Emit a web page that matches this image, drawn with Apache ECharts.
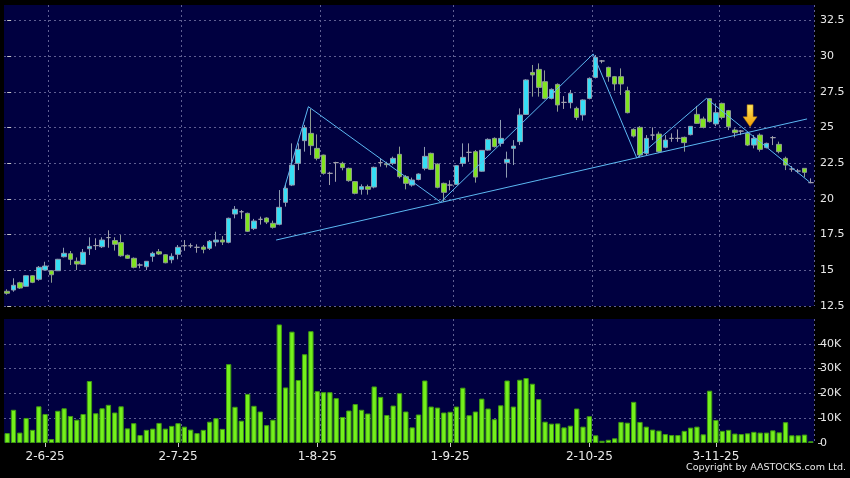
<!DOCTYPE html>
<html>
<head>
<meta charset="utf-8">
<script src="https://cdn.jsdelivr.net/npm/echarts@6/dist/echarts.min.js"></script>
<style>
  html, body { margin: 0; padding: 0; background: #000; }
  #chart { width: 850px; height: 478px; }
</style>
</head>
<body>
<div id="chart"></div>
<script>
// trading days per month (2025)
const months = [
  ['5', [23, 26, 27, 28, 29, 30]],
  ['6', [2, 3, 4, 5, 6, 9, 10, 11, 12, 13, 16, 17, 18, 19, 20, 23, 24, 25, 26, 27, 30]],
  ['7', [2, 3, 4, 7, 8, 9, 10, 11, 14, 15, 16, 17, 18, 21, 22, 23, 24, 25, 28, 29, 30, 31]],
  ['8', [1, 4, 5, 6, 7, 8, 11, 12, 13, 14, 15, 18, 19, 20, 21, 22, 25, 26, 27, 28, 29]],
  ['9', [1, 2, 3, 4, 5, 8, 9, 10, 11, 12, 15, 16, 17, 18, 19, 22, 23, 24, 25, 26, 29, 30]],
  ['10', [2, 3, 6, 8, 9, 10, 13, 14, 15, 16, 17, 20, 21, 22, 23, 24, 27, 28, 30, 31]],
  ['11', [3, 4, 5, 6, 7, 10, 11, 12, 13, 14, 17, 18, 19, 20, 21, 24]]
];
const dates = months.flatMap(([m, days]) => days.map(d => d + '-' + m + '-25'));
const labelDates = ['2-6-25', '2-7-25', '1-8-25', '1-9-25', '2-10-25', '3-11-25'];

const opens = [
  13.53, 13.62, 14.13, 13.88, 14.62, 14.37, 15.02, 14.97, 14.97, 15.95,
  16.16, 15.63, 15.42, 16.51, 16.73, 16.65, 17.29, 17.08, 16.94, 16.05,
  15.84, 15.37, 15.25, 15.98, 16.30, 16.09, 15.74, 16.12, 16.72, 16.72,
  16.61, 16.63, 16.54, 16.98, 17.12, 16.96, 18.94, 19.10, 18.99, 17.92,
  18.57, 18.66, 18.29, 18.22, 19.76, 20.97, 22.49, 24.08, 24.59, 23.54,
  23.07, 21.79, 22.54, 22.49, 22.14, 21.21, 20.67, 20.86, 20.83, 22.54,
  22.45, 22.49, 23.12, 21.56, 20.97, 21.36, 22.14, 23.19, 22.44, 21.09,
  20.97, 21.02, 22.49, 23.26, 23.31, 21.94, 23.42, 24.24, 23.89, 22.54,
  23.54, 24.01, 25.92, 28.86, 29.07, 28.21, 27.04, 28.02, 26.76, 26.74,
  26.34, 25.88, 27.04, 28.51, 29.66, 29.21, 28.56, 28.56, 27.58, 24.87,
  25.01, 23.19, 24.47, 24.54, 23.61, 24.24, 24.24, 24.31, 24.50, 25.92,
  25.60, 27.02, 25.25, 26.69, 26.18, 24.82, 24.75, 24.59, 23.77, 24.47,
  23.59, 24.29, 23.82, 22.84, 22.09, 21.95, 22.14, 21.14
];
const highs = [
  13.67, 14.44, 14.20, 14.65, 14.65, 15.30, 15.60, 15.02, 15.80, 16.58,
  16.35, 15.90, 16.49, 17.31, 17.24, 17.31, 17.80, 17.31, 17.47, 16.10,
  15.90, 15.49, 15.65, 16.30, 16.49, 16.14, 16.19, 16.77, 17.12, 16.89,
  16.82, 16.77, 17.12, 17.70, 17.40, 18.69, 19.50, 19.22, 19.04, 18.60,
  18.76, 18.71, 18.48, 20.62, 20.97, 23.89, 23.89, 25.18, 26.30, 24.52,
  23.10, 21.90, 22.60, 22.60, 22.19, 21.25, 21.02, 21.00, 22.26, 22.84,
  22.60, 22.96, 23.66, 21.67, 21.49, 21.79, 23.64, 23.24, 22.49, 21.14,
  21.30, 22.37, 23.89, 23.89, 23.42, 23.42, 24.24, 24.31, 25.53, 23.31,
  24.12, 26.34, 28.38, 29.38, 29.49, 29.00, 27.74, 28.09, 27.20, 27.63,
  26.46, 26.97, 28.51, 30.08, 29.73, 29.26, 28.61, 29.14, 27.86, 24.94,
  25.10, 24.47, 25.01, 24.71, 24.47, 24.59, 24.87, 24.36, 25.10, 26.51,
  25.76, 27.04, 26.69, 26.74, 26.23, 24.94, 24.82, 24.64, 24.47, 24.59,
  23.94, 24.40, 24.01, 22.96, 22.30, 22.10, 22.14, 21.44
];
const lows = [
  13.29, 13.50, 13.70, 13.85, 14.10, 14.27, 15.00, 14.13, 14.95, 15.90,
  15.37, 15.02, 15.37, 16.07, 16.42, 16.56, 16.58, 16.38, 15.95, 15.80,
  15.14, 15.14, 15.02, 15.60, 16.07, 15.49, 15.49, 15.77, 16.37, 16.56,
  16.23, 16.19, 16.42, 16.68, 16.77, 16.89, 18.64, 18.60, 17.68, 17.82,
  18.20, 18.24, 17.92, 18.15, 19.46, 20.90, 22.02, 23.31, 23.07, 22.70,
  21.70, 20.97, 21.20, 22.00, 21.20, 20.32, 20.30, 20.30, 20.74, 22.26,
  22.20, 22.37, 21.44, 20.67, 20.86, 21.30, 22.00, 22.02, 20.74, 19.80,
  20.60, 20.97, 22.26, 22.60, 21.14, 21.90, 23.38, 23.60, 23.66, 21.49,
  22.37, 23.77, 25.88, 27.16, 27.16, 26.97, 26.97, 26.11, 26.30, 26.34,
  25.52, 25.48, 26.97, 28.44, 29.50, 28.21, 27.58, 27.28, 25.99, 24.30,
  22.91, 23.07, 24.12, 23.24, 23.54, 24.00, 24.00, 23.31, 24.45, 25.25,
  24.94, 25.34, 25.10, 25.57, 24.82, 24.30, 24.47, 23.70, 23.54, 23.31,
  23.54, 23.77, 23.19, 22.02, 21.90, 21.80, 21.51, 21.10
];
const closes = [
  13.39, 13.95, 13.76, 14.62, 14.16, 15.21, 15.30, 14.69, 15.77, 16.19,
  15.77, 15.44, 16.26, 16.68, 16.73, 17.12, 17.29, 16.82, 16.02, 15.84,
  15.21, 15.37, 15.63, 16.19, 16.14, 15.53, 15.98, 16.61, 16.72, 16.72,
  16.61, 16.47, 17.03, 17.12, 16.98, 18.64, 19.27, 19.10, 17.73, 18.45,
  18.57, 18.38, 18.01, 19.41, 20.74, 22.37, 23.47, 24.99, 23.73, 22.84,
  21.79, 21.79, 22.54, 22.19, 21.28, 20.39, 20.86, 20.67, 22.21, 22.54,
  22.40, 22.84, 21.56, 21.09, 21.32, 21.74, 22.98, 22.07, 20.81, 20.46,
  20.97, 22.33, 22.91, 23.26, 21.53, 23.40, 24.17, 23.66, 24.24, 22.77,
  23.70, 25.88, 28.33, 28.68, 27.81, 27.04, 27.67, 26.58, 26.76, 27.39,
  25.71, 26.93, 28.44, 29.91, 29.66, 28.56, 28.05, 28.05, 26.04, 24.40,
  23.07, 24.24, 24.47, 23.31, 24.12, 24.24, 24.24, 23.94, 25.08, 25.29,
  25.01, 25.41, 26.04, 25.71, 25.06, 24.64, 24.75, 23.77, 24.24, 23.47,
  23.89, 24.29, 23.31, 22.37, 22.09, 21.95, 21.86, 21.14
];
// volume in thousands
const volumes = [
  4.0, 13.4, 4.2, 10.1, 5.3, 14.8, 11.7, 1.6, 13.0, 14.0,
  10.9, 9.4, 11.7, 25.0, 12.0, 14.0, 15.4, 12.3, 14.8, 5.9,
  8.0, 3.2, 5.3, 5.8, 8.1, 5.8, 6.9, 8.0, 6.6, 5.4,
  4.0, 5.3, 8.6, 10.0, 5.7, 31.8, 14.6, 9.0, 19.8, 15.0,
  12.7, 7.2, 9.4, 47.8, 22.4, 44.9, 25.4, 35.8, 45.1, 20.9,
  20.5, 20.5, 18.1, 10.5, 13.1, 15.7, 13.4, 11.9, 22.8, 18.6,
  11.3, 15.1, 20.1, 12.7, 6.3, 11.5, 25.2, 14.7, 14.3, 12.3,
  12.6, 14.7, 22.3, 11.2, 12.7, 17.9, 13.9, 9.6, 15.2, 25.2,
  14.7, 25.5, 26.2, 23.9, 17.7, 8.6, 7.8, 7.9, 6.3, 7.0,
  13.9, 6.6, 10.8, 3.1, 0.9, 1.3, 1.9, 8.5, 8.2, 16.6,
  8.5, 6.6, 5.4, 5.0, 3.6, 3.2, 3.2, 4.9, 6.2, 6.6,
  3.5, 21.1, 9.3, 4.9, 5.3, 3.8, 3.6, 3.9, 4.5, 4.2,
  4.2, 5.1, 4.3, 8.4, 3.1, 3.1, 3.4, 0.7
];

// hand-drawn trend lines: [bar index, price]
const supportLine = [[42.5, 17.12], [126.4, 25.6]];
const zigzagLine = [[43.7, 20.6], [47.6, 26.46], [68.5, 19.78], [92.6, 30.15], [99.5, 22.86], [110.5, 27.04], [126.8, 21.18]];
const arrowAt = [117.4, 25.82];

const candles = opens.map((o, i) => [o, closes[i], lows[i], highs[i]]);
const isLabel = (idx) => labelDates.includes(dates[idx]);
const isGridLine = (idx) => idx > 0 && labelDates.includes(dates[idx - 1]);

const gridDash = { color: '#5f5f92', width: 1, type: [2, 3] };
const labelFont = { color: '#e8e8e8', fontFamily: 'DejaVu Sans', fontSize: 11 };

const chart = echarts.init(document.getElementById('chart'));
chart.setOption({
  backgroundColor: '#000000',
  animation: false,
  grid: [
    { left: 4, right: 36, top: 5, height: 301, show: true, backgroundColor: '#000040', borderWidth: 0 },
    { left: 4, right: 36, top: 319, height: 124, show: true, backgroundColor: '#000040', borderWidth: 0 }
  ],
  xAxis: [
    {
      type: 'category', gridIndex: 0, data: dates, boundaryGap: true,
      axisLine: { show: false }, axisTick: { show: false }, axisLabel: { show: false },
      splitLine: { show: true, interval: isGridLine, lineStyle: gridDash }
    },
    {
      type: 'category', gridIndex: 1, data: dates, boundaryGap: true,
      axisLine: { show: false },
      axisTick: { show: true, interval: isLabel, alignWithLabel: true, length: 4, lineStyle: { color: '#c8c8c8' } },
      axisLabel: { interval: isLabel, margin: 8, color: '#e8e8e8', fontFamily: 'DejaVu Sans', fontSize: 12 },
      splitLine: { show: true, interval: isGridLine, lineStyle: gridDash }
    },
    { type: 'value', gridIndex: 0, min: -0.5, max: 127.5, show: false }
  ],
  yAxis: [
    {
      type: 'value', gridIndex: 0, position: 'right', offset: 4,
      min: 12.5, max: 33.58, interval: 2.5, scale: true,
      axisLine: { show: false },
      axisTick: { show: true, length: 4, lineStyle: { color: '#c8c8c8' } },
      axisLabel: Object.assign({ margin: 2, showMaxLabel: false }, labelFont),
      splitLine: { show: true, showMaxLine: false, lineStyle: gridDash }
    },
    {
      type: 'value', gridIndex: 1, position: 'right', offset: 4,
      min: 0, max: 50, interval: 10,
      axisLine: { show: false },
      axisTick: { show: true, length: 4, lineStyle: { color: '#c8c8c8' } },
      axisLabel: Object.assign({
        margin: 2, showMaxLabel: false,
        formatter: (v) => v === 0 ? '0' : v + 'K'
      }, labelFont),
      splitLine: { show: true, showMaxLine: false, showMinLine: false, lineStyle: gridDash }
    }
  ],
  series: [
    {
      type: 'candlestick', xAxisIndex: 0, yAxisIndex: 0, barWidth: '80%',
      data: candles,
      itemStyle: {
        color: '#35def5', color0: '#80e41f',
        borderColor: '#8e9cb0', borderColor0: '#8e9c90', borderColorDoji: '#a0a0ac',
        borderWidth: 1
      }
    },
    {
      type: 'bar', xAxisIndex: 1, yAxisIndex: 1, barWidth: '84%',
      data: volumes,
      itemStyle: { color: '#74f01c', borderColor: '#3f9a12', borderWidth: 1 }
    },
    {
      type: 'line', xAxisIndex: 2, yAxisIndex: 0, data: supportLine,
      symbol: 'none', silent: true,
      lineStyle: { color: '#5cb8f2', width: 1 }
    },
    {
      type: 'line', xAxisIndex: 2, yAxisIndex: 0, data: zigzagLine,
      symbol: 'none', silent: true,
      lineStyle: { color: '#5cb8f2', width: 1 },
      markPoint: {
        silent: true,
        symbol: 'path://M4,0 L10,0 L10,12 L14,12 L7,22 L0,12 L4,12 Z',
        symbolSize: [14, 22],
        label: { show: false },
        itemStyle: {
          color: new echarts.graphic.LinearGradient(0, 0, 0, 1, [
            { offset: 0, color: '#ffe860' },
            { offset: 1, color: '#f09a00' }
          ]),
          borderColor: '#b87a00', borderWidth: 0.5
        },
        data: [{ coord: arrowAt }]
      }
    }
  ],
  graphic: [
    {
      type: 'text', right: 4, top: 463,
      style: { text: 'Copyright by AASTOCKS.com Ltd.', fill: '#e8e8e8', font: '9.5px "DejaVu Sans"' }
    }
  ]
});
</script>
</body>
</html>
